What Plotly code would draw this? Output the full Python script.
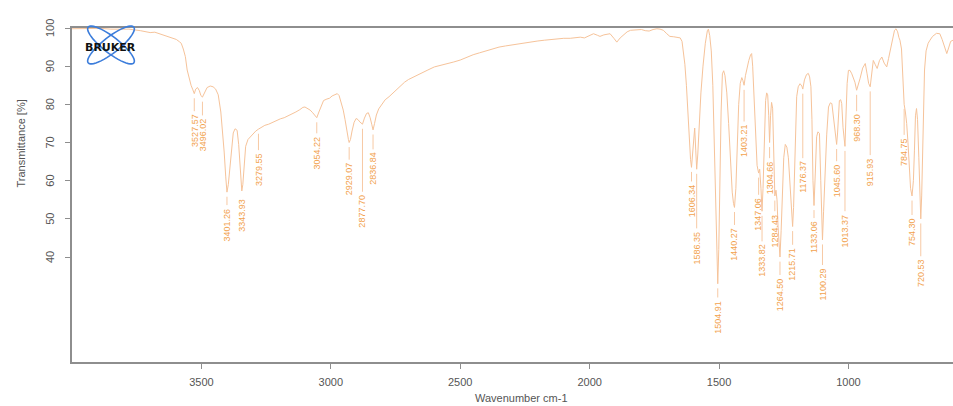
import math
import numpy as np
import plotly.graph_objects as go

# ---------------- data ----------------
wavenumber = [
    4000, 3950, 3890, 3850, 3813, 3780, 3736, 3715, 3698, 3680, 3659, 3640, 3620, 3605, 3597, 3585,
    3578, 3570, 3562, 3555, 3547, 3540, 3533, 3527.57, 3522, 3515, 3508, 3502, 3496.02, 3488, 3478,
    3466, 3455, 3445, 3435, 3425, 3418, 3412, 3406, 3401.26, 3396, 3390, 3384, 3377, 3370, 3362,
    3356, 3351, 3347, 3343.93, 3340, 3335, 3329, 3320, 3310, 3300, 3290, 3279.55, 3270, 3255, 3240,
    3225, 3210, 3195, 3180, 3165, 3150, 3135, 3120, 3108, 3100, 3090, 3080, 3070, 3062, 3054.22,
    3046, 3038, 3028, 3015, 3005, 2995, 2985, 2975, 2968, 2960, 2952, 2945, 2938, 2932, 2929.07,
    2924, 2918, 2910, 2902, 2895, 2888, 2877.70, 2870, 2862, 2855, 2848, 2842, 2836.84, 2831, 2824,
    2815, 2800, 2790, 2775, 2760, 2745, 2730, 2715, 2700, 2675, 2650, 2625, 2600, 2575, 2550, 2525,
    2500, 2475, 2450, 2425, 2400, 2375, 2350, 2325, 2300, 2275, 2250, 2225, 2200, 2175, 2150, 2125,
    2100, 2075, 2050, 2036, 2020, 2000, 1985, 1970, 1960, 1945, 1921, 1905, 1895, 1882, 1870, 1855,
    1842, 1820, 1800, 1785, 1770, 1755, 1740, 1728, 1715, 1702, 1690, 1675, 1660, 1650, 1643, 1638,
    1632, 1626, 1620, 1615, 1610, 1606.34, 1602, 1598, 1594, 1590, 1586.35, 1582, 1577, 1570, 1562,
    1553, 1545, 1541, 1536, 1530, 1524, 1518, 1512, 1508, 1504.91, 1501, 1497, 1492, 1487, 1482,
    1477, 1470, 1463, 1456, 1449, 1444, 1440.27, 1435, 1430, 1424, 1418, 1412, 1408, 1403.21, 1398,
    1392, 1385, 1378, 1374, 1370, 1365, 1359, 1353, 1347.06, 1343, 1338, 1333.82, 1330, 1325, 1320,
    1316, 1312, 1308, 1304.66, 1301, 1297, 1293, 1289, 1284.43, 1280, 1276, 1272, 1268, 1264.50,
    1260, 1255, 1250, 1244, 1238, 1232, 1227, 1222, 1218, 1215.71, 1212, 1206, 1200, 1194, 1187,
    1180, 1176.37, 1170, 1162, 1155, 1150, 1145, 1141, 1137, 1133.06, 1128, 1123, 1118, 1112, 1107,
    1103, 1100.29, 1096, 1090, 1084, 1077, 1070, 1064, 1058, 1052, 1048, 1045.60, 1042, 1035, 1030,
    1026, 1021, 1017, 1013.37, 1009, 1005, 1000, 994, 987, 980, 975, 968.30, 962, 955, 945, 935,
    928, 922, 915.93, 910, 904, 897, 889, 880, 871, 862, 852, 845, 839, 830, 822, 816, 810, 805,
    801, 795, 790, 784.75, 780, 775, 770, 765, 760, 754.30, 749, 745, 741, 737, 733, 728, 724,
    720.53, 717, 714, 711, 706, 700, 692, 685, 675, 660, 647, 638, 630, 620, 612, 605, 596,
]
transmittance = [
    99.8, 99.9, 99.9, 99.7, 99.6, 99.7, 99.3, 99.0, 98.8, 98.9, 98.4, 98.1, 97.5, 97.3, 97.0, 96.4,
    96.0, 94.5, 92.5, 89.0, 86.5, 85.0, 83.8, 82.8, 84.0, 84.4, 83.6, 82.3, 81.9, 83.2, 84.4,
    84.8, 84.6, 84.0, 82.5, 78.0, 73.0, 67.5, 61.0, 57.0, 59.0, 63.5, 69.0, 72.5, 73.6, 73.2,
    69.5, 64.0, 59.5, 57.3, 59.0, 64.5, 69.0, 70.8, 71.6, 72.4, 73.0, 73.5, 73.9, 74.5, 74.8,
    75.3, 75.6, 76.2, 76.5, 77.0, 77.3, 78.0, 78.6, 79.2, 79.3, 79.0, 78.5, 77.8, 77.0, 76.5,
    78.0, 79.6, 81.0, 81.4, 81.6, 82.2, 82.6, 82.8, 82.3, 80.5, 78.5, 76.0, 72.5, 70.8, 70.0,
    70.8, 73.0, 75.3, 76.3, 76.0, 75.4, 74.8, 76.4, 77.6, 77.8, 76.5, 74.8, 73.3, 75.0, 77.2,
    78.8, 80.3, 81.2, 82.0, 83.0, 84.0, 85.0, 85.8, 86.5, 87.4, 88.3, 89.0, 89.8, 90.2, 90.7, 91.1,
    91.6, 92.4, 93.0, 93.5, 94.0, 94.6, 95.0, 95.3, 95.6, 95.9, 96.2, 96.4, 96.6, 96.8, 97.0, 97.2,
    97.3, 97.3, 97.4, 97.6, 97.4, 98.0, 98.5, 98.1, 97.8, 98.2, 98.5, 97.2, 96.3, 97.4, 98.2, 99.0,
    99.4, 99.5, 99.6, 99.3, 99.2, 99.6, 99.8, 99.7, 99.4, 98.5, 97.8, 97.7, 97.6, 97.4, 96.5, 94.2,
    90.5, 85.0, 78.0, 70.0, 65.5, 63.5, 67.0, 72.0, 73.8, 68.0, 63.0, 67.0, 75.0, 83.0, 90.0,
    96.0, 99.3, 99.7, 98.0, 94.0, 85.0, 70.0, 52.0, 40.0, 33.0, 42.0, 60.0, 78.0, 88.0, 88.8,
    87.5, 83.0, 75.0, 64.0, 57.0, 54.0, 53.0, 58.0, 70.0, 80.0, 85.5, 87.0, 86.3, 85.0, 87.5,
    89.5, 91.5, 93.0, 93.3, 90.0, 82.0, 71.0, 64.0, 62.0, 63.0, 58.0, 52.0, 58.0, 70.0, 81.0,
    83.0, 82.5, 77.0, 70.0, 77.0, 80.5, 79.0, 68.0, 56.0, 57.5, 55.0, 48.0, 42.0, 40.0,
    47.0, 58.0, 66.0, 69.5, 68.8, 66.0, 61.0, 54.0, 49.5, 48.0, 53.0, 68.0, 82.0, 84.6, 85.4,
    84.8, 84.0, 86.4, 87.8, 88.1, 87.2, 84.6, 76.0, 60.0, 53.5, 62.0, 71.5, 72.8, 72.4, 60.0,
    48.0, 44.5, 52.0, 62.7, 72.0, 79.3, 80.4, 80.2, 76.7, 72.5, 70.2, 69.5, 72.5, 81.0, 81.2,
    80.2, 74.0, 70.0, 69.0, 78.0, 85.5, 88.9, 88.9, 88.0, 86.5, 85.8, 83.7, 85.0, 86.8, 89.5, 90.7,
    88.0, 85.5, 84.6, 88.0, 91.5, 90.5, 89.4, 91.5, 92.4, 90.8, 89.8, 92.0, 94.2, 97.5, 99.4, 99.8, 99.0, 97.5,
    96.8, 94.5, 89.0, 80.0, 78.0, 75.0, 70.0, 63.0, 58.0, 56.0, 60.0, 68.0, 77.0, 78.9, 76.0, 66.0, 56.0,
    50.0, 56.0, 68.0, 80.0, 89.0, 94.0, 96.0, 96.8, 97.8, 98.6, 98.5, 97.0, 95.3, 93.3, 95.0, 96.5, 96.8,
]

peak_labels = [
    "3527.57", "3496.02", "3401.26", "3343.93", "3279.55", "3054.22", "2929.07", "2877.70",
    "2836.84", "1606.34", "1586.35", "1504.91", "1440.27", "1403.21", "1347.06", "1333.82",
    "1304.66", "1284.43", "1264.50", "1215.71", "1176.37", "1133.06", "1100.29", "1045.60",
    "1013.37", "968.30", "915.93", "784.75", "754.30", "720.53",
]
# how far (in % units) each label sits below its peak (layout only)
label_drop = [
    5.1, 5.3, 3.9, 1.7, 6.0, 4.6, 5.0, 18.2,
    5.6, 4.2, 16.0, 4.1, 5.1, 10.0, 6.2, 8.4,
    4.6, 4.5, 5.2, 5.3, 18.6, 3.8, 7.1, 4.9,
    17.5, 6.0, 18.4, 8.5, 5.5, 10.3,
]

x_ticks = [3500, 3000, 2500, 2000, 1500, 1000]
y_ticks = [40, 50, 60, 70, 80, 90, 100]

# ---------------- styling ----------------
W, H = 953, 406
ML, MR, MT, MB = 72, 0, 28, 44
Y_RANGE = [12.5, 100]
LINE_COL = "#F6C39A"
LABEL_COL = "#F2A24E"
AXIS_COL = "#8E8E8E"
TEXT_COL = "#555555"
FONT = "Liberation Sans, Arial, sans-serif"

wn_arr = np.array(wavenumber, dtype=float)
t_arr = np.array(transmittance, dtype=float)
peak_wn = np.array([float(s) for s in peak_labels])
order = np.argsort(wn_arr)
peak_t = np.interp(peak_wn, wn_arr[order], t_arr[order])

fig = go.Figure()
fig.add_trace(go.Scatter(x=wavenumber, y=transmittance, mode="lines",
                         line=dict(color=LINE_COL, width=1), hoverinfo="skip",
                         showlegend=False))

# leader lines from each peak down to its label
lx, ly = [], []
for w, t, d in zip(peak_wn, peak_t, label_drop):
    top = t - 1.2
    bot = t - d + 0.5
    if top - bot > 0.4:
        lx += [w, w, None]
        ly += [top, bot, None]
fig.add_trace(go.Scatter(x=lx, y=ly, mode="lines", line=dict(color="#F7C9A4", width=1),
                         hoverinfo="skip", showlegend=False))

annotations = []
for lab, w, t, d in zip(peak_labels, peak_wn, peak_t, label_drop):
    annotations.append(dict(x=w, y=t - d, xref="x", yref="y", text=lab, showarrow=False,
                            textangle=-90, xanchor="center", yanchor="top", borderpad=0,
                            font=dict(family=FONT, size=9, color=LABEL_COL)))

pw = W - ML - MR
ph = H - MT - MB

def px2paper(px, py):
    return (px - ML) / pw, (H - MB - py) / ph

# vertical y tick labels (as in the reference), positioned from the axis range
x_lab = px2paper(50, 0)[0]
for v in y_ticks:
    yp = (v - Y_RANGE[0]) / (Y_RANGE[1] - Y_RANGE[0])
    annotations.append(dict(x=x_lab, y=yp, xref="paper", yref="paper", text=str(v),
                            showarrow=False, textangle=-90, xanchor="center", yanchor="middle",
                            font=dict(family=FONT, size=11, color=TEXT_COL)))

annotations.append(dict(x=px2paper(20, 143.5)[0], y=px2paper(20, 143.5)[1], xref="paper",
                        yref="paper", text="Transmittance [%]", textangle=-90, showarrow=False,
                        xanchor="center", yanchor="middle",
                        font=dict(family=FONT, size=11, color=TEXT_COL)))
annotations.append(dict(x=px2paper(521, 398)[0], y=px2paper(521, 398)[1], xref="paper",
                        yref="paper", text="Wavenumber cm-1", showarrow=False,
                        xanchor="center", yanchor="middle",
                        font=dict(family=FONT, size=11, color=TEXT_COL)))

# Bruker logo (decoration)
shapes = []
cx, cy = 111, 45
for ang in (38, -38):
    th = math.radians(ang)
    pts = []
    for i in range(49):
        tt = 2 * math.pi * i / 48
        a, b = 29, 8
        X = cx + a * math.cos(tt) * math.cos(th) - b * math.sin(tt) * math.sin(th)
        Y = cy + a * math.cos(tt) * math.sin(th) + b * math.sin(tt) * math.cos(th)
        pts.append(px2paper(X, Y))
    path = "M " + " L ".join(f"{p[0]:.5f},{p[1]:.5f}" for p in pts) + " Z"
    shapes.append(dict(type="path", path=path, xref="paper", yref="paper",
                       line=dict(color="#3C7DDB", width=1.6), layer="above"))
annotations.append(dict(x=px2paper(110, 47.5)[0], y=px2paper(110, 47.5)[1], xref="paper",
                        yref="paper", text="<b>BRUKER</b>", showarrow=False,
                        xanchor="center", yanchor="middle",
                        font=dict(family="DejaVu Sans, sans-serif", size=11, color="#111111")))

fig.update_layout(
    width=W, height=H,
    margin=dict(l=ML, r=MR, t=MT, b=MB, pad=0),
    paper_bgcolor="white", plot_bgcolor="white",
    showlegend=False,
    annotations=annotations,
    shapes=shapes,
    xaxis=dict(range=[4000, 596], tickvals=x_ticks, ticktext=[str(v) for v in x_ticks],
               showgrid=False, zeroline=False, showline=True, mirror=True,
               linecolor=AXIS_COL, linewidth=1.5, ticks="outside", ticklen=5,
               tickcolor=AXIS_COL, tickwidth=1,
               tickfont=dict(family=FONT, size=11, color=TEXT_COL), ticklabelstandoff=4),
    yaxis=dict(range=Y_RANGE, tickvals=y_ticks, showticklabels=False,
               showgrid=False, zeroline=False, showline=True, mirror=False,
               linecolor=AXIS_COL, linewidth=1.5, ticks="outside", ticklen=5,
               tickcolor=AXIS_COL, tickwidth=1),
)

fig.write_html("out.html")
